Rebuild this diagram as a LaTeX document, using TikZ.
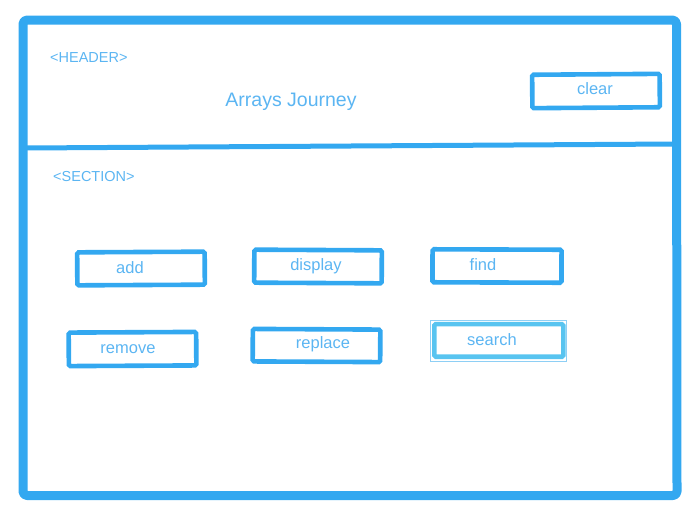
\documentclass[tikz,border=0pt]{standalone}
\usepackage{fontspec}
\setmainfont{Liberation Sans}
\definecolor{frameblue}{HTML}{33A8F0}
\definecolor{txtblue}{HTML}{5BB5F2}
\definecolor{searchblue}{HTML}{58C4F0}
\definecolor{thinblue}{HTML}{8ECFF5}
\begin{document}
\begin{tikzpicture}[x=1pt,y=-1pt,
  frameline/.style={draw=frameblue,line width=9pt,rounded corners=4pt,line join=round},
  divider/.style={draw=frameblue,line width=5pt},
  btnbox/.style={draw=frameblue,line width=4.6pt,rounded corners=1.5pt,minimum width=127.5pt,minimum height=33pt,inner sep=0pt,outer sep=0pt},
  btntext/.style={text=txtblue,font=\fontsize{16.5}{18}\selectfont,inner sep=0pt},
  tagtext/.style={text=txtblue,font=\fontsize{14.5}{16}\selectfont,inner sep=0pt,anchor=west},
  titletext/.style={text=txtblue,font=\fontsize{19.5}{22}\selectfont,inner sep=0pt}
  ]
\useasboundingbox (0,0) rectangle (700,523);
% outer frame
\draw[frameline] (23,20) -- (676.5,20) -- (677,495.5) -- (23,495.5) -- cycle;
\coordinate (divL) at (25,148);
\coordinate (divR) at (675,144);
\draw[divider] (divL) -- (divR);
% header
\node[tagtext] (headertag) at (50,57.5) {<HEADER>};
\node[titletext] (title) at (291,101.5) {Arrays Journey};
\node[btnbox,minimum height=33.4pt,rotate=0.4] (clear) at (596,91) {};
\node[btntext] (clearT) at (595,88.5) {clear};
% section
\node[tagtext] (sectiontag) at (53,177) {<SECTION>};
\node[btnbox,rotate=0.3] (add) at (141,268.5) {};
\node[btntext] (addT) at (130,267.5) {add};
\node[btnbox,rotate=-0.3] (display) at (318,266.5) {};
\node[btntext] (displayT) at (316,266) {display};
\node[btnbox,minimum width=129pt,rotate=-0.2] (find) at (497,266) {};
\node[btntext] (findT) at (483,264.5) {find};
\node[btnbox,minimum height=33.5pt,rotate=0.3] (remove) at (132.5,349) {};
\node[btntext] (removeT) at (128,349) {remove};
\node[btnbox,minimum height=32.5pt,rotate=-0.3] (replace) at (316.5,345.5) {};
\node[btntext] (replaceT) at (323,344) {replace};
\node[draw=thinblue,line width=0.8pt,minimum width=135.5pt,minimum height=41.5pt,inner sep=0pt] (searchsel) at (498.3,341) {};
\node[btnbox,draw=searchblue,minimum width=129pt,minimum height=32.6pt] (search) at (498.8,340.4) {};
\node[btntext] (searchT) at (492,339.5) {search};
\end{tikzpicture}
\end{document}
